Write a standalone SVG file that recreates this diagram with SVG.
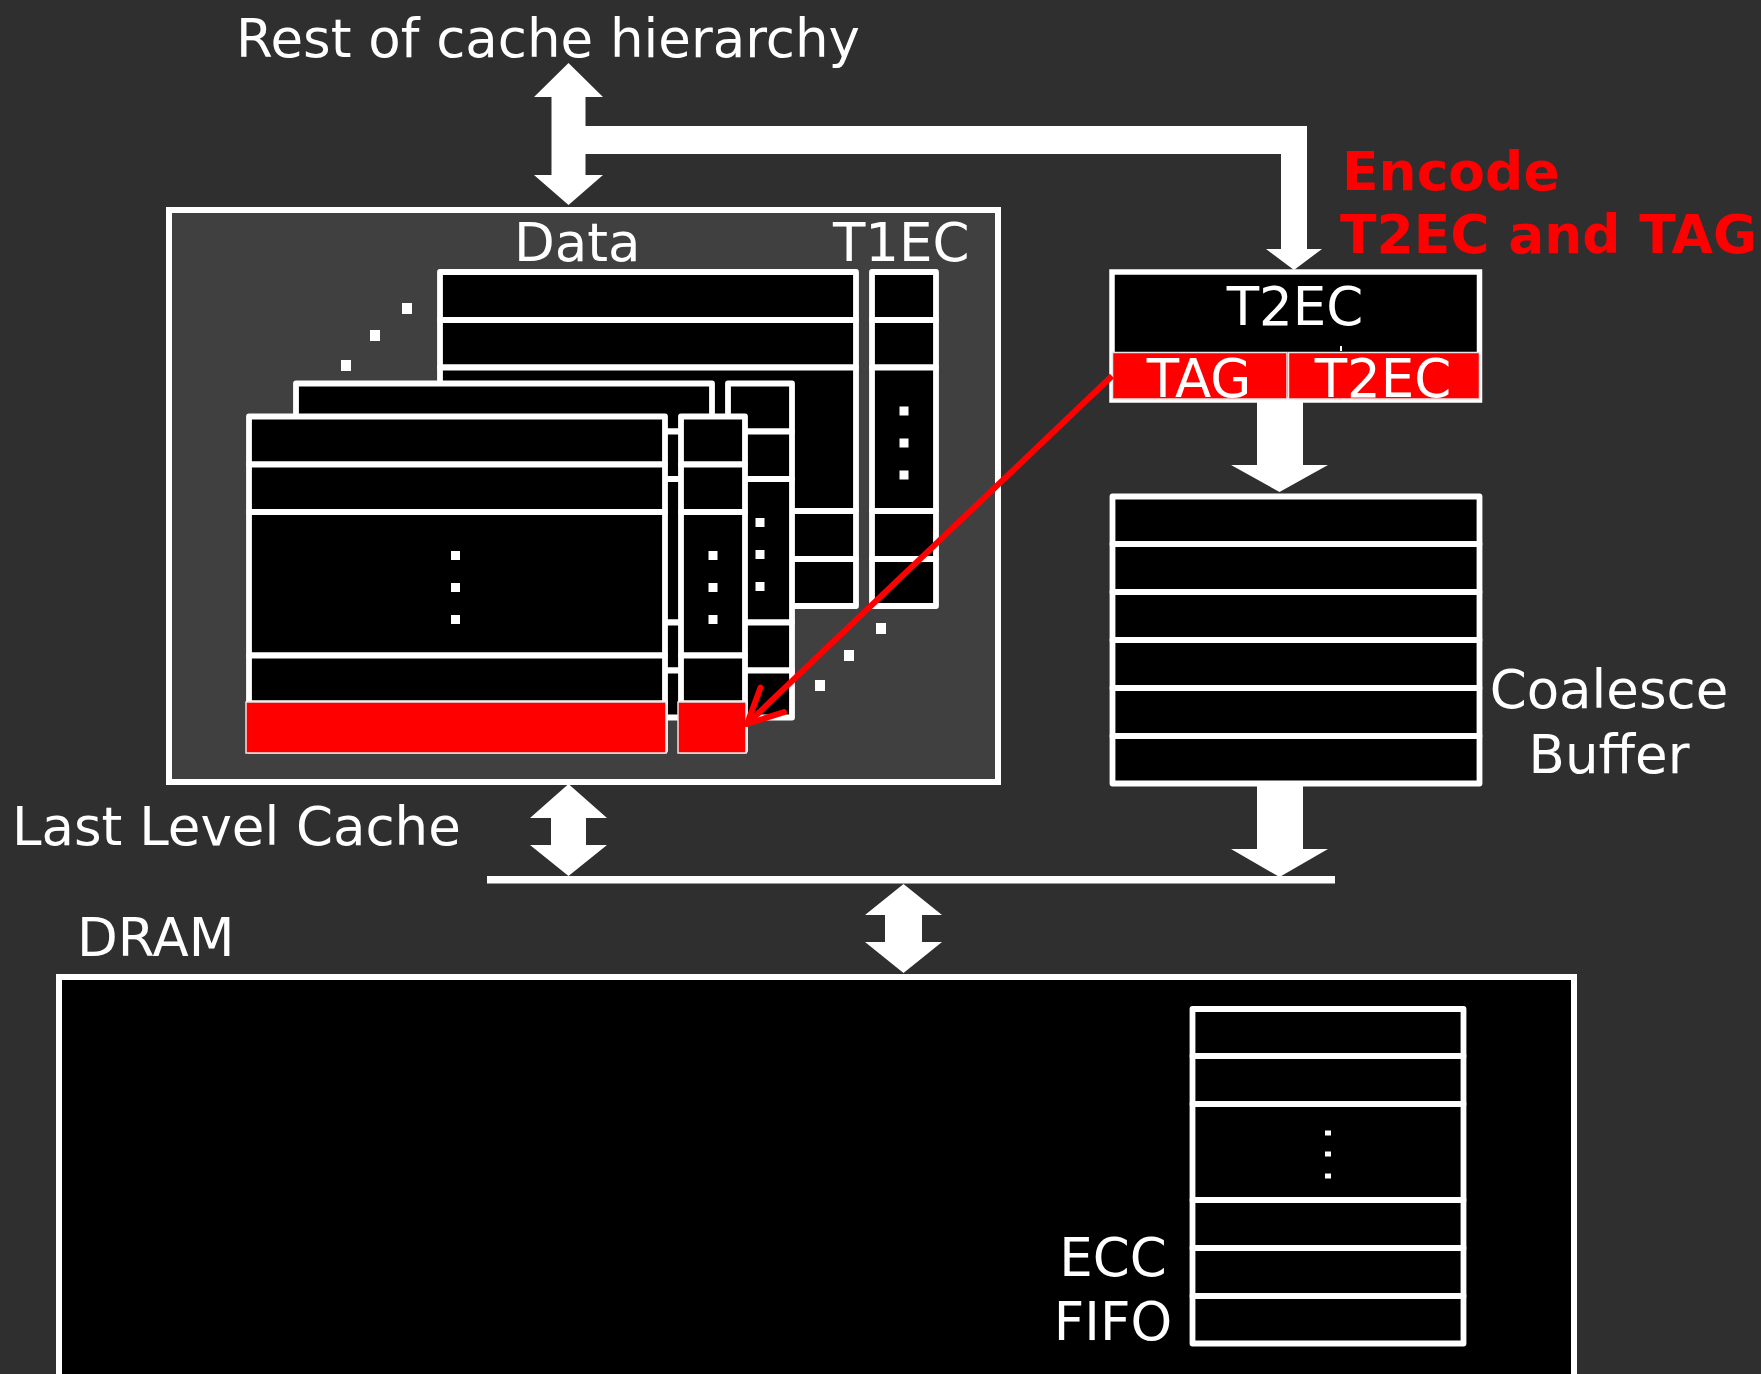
<svg xmlns="http://www.w3.org/2000/svg" xmlns:xlink="http://www.w3.org/1999/xlink" width="1761" height="1374" viewBox="0 0 1761 1374">
<style>
.lbl{font-family:"DejaVu Sans",Verdana,"Liberation Sans",sans-serif;font-size:53px;fill:#ffffff}
.red{font-family:"DejaVu Sans",Verdana,"Liberation Sans",sans-serif;font-size:53.5px;font-weight:bold;fill:#ff0000}
.cell{fill:#000000;stroke:#ffffff;stroke-width:5.8;stroke-linejoin:round}
.hot{fill:#ff0000;stroke:#e6e6e6;stroke-width:1.5}
.dot{fill:#ffffff}
.arrow{fill:#ffffff;stroke:none}
</style>
<defs>
<g id="plane">
<rect class="cell" x="0" y="0" width="416" height="48"/>
<rect class="cell" x="0" y="48" width="416" height="47.5"/>
<rect class="cell" x="0" y="95.5" width="416" height="143.5"/>
<rect class="cell" x="0" y="239" width="416" height="48"/>
<rect class="cell" x="0" y="287" width="416" height="47"/>
<rect class="cell" x="432" y="0" width="64" height="48"/>
<rect class="cell" x="432" y="48" width="64" height="47.5"/>
<rect class="cell" x="432" y="95.5" width="64" height="143.5"/>
<rect class="cell" x="432" y="239" width="64" height="48"/>
<rect class="cell" x="432" y="287" width="64" height="47"/>
<rect class="dot" x="202" y="134.5" width="9" height="9"/>
<rect class="dot" x="202" y="166.5" width="9" height="9"/>
<rect class="dot" x="202" y="198.5" width="9" height="9"/>
<rect class="dot" x="459.5" y="134.5" width="9" height="9"/>
<rect class="dot" x="459.5" y="166.5" width="9" height="9"/>
<rect class="dot" x="459.5" y="198.5" width="9" height="9"/>
</g>
<marker id="redhead" markerUnits="userSpaceOnUse" markerWidth="46" markerHeight="46" viewBox="0 0 46 46" refX="41" refY="23" orient="auto">
<path d="M6,6 L41,23 L6,40" fill="none" stroke="#ff0000" stroke-width="6" stroke-linecap="round" stroke-linejoin="round"/>
</marker>
</defs>

<rect x="0" y="0" width="1761" height="1374" fill="#2f2f2f"/>

<g id="rest-label">
<text class="lbl" x="236" y="57">Rest of cache hierarchy</text>
</g>

<g id="llc">
<rect x="169" y="210" width="829" height="572" fill="#404040" stroke="#ffffff" stroke-width="6"/>
<text class="lbl" x="514" y="261">Data</text>
<text class="lbl" x="833" y="261">T1EC</text>
<use xlink:href="#plane" href="#plane" transform="translate(440,272)"/>
<use xlink:href="#plane" href="#plane" transform="translate(296,383.5)"/>
<use xlink:href="#plane" href="#plane" transform="translate(249,416.5)"/>
<rect class="hot" x="246" y="702" width="420" height="51"/>
<rect class="hot" x="678" y="702" width="68" height="51"/>
<rect class="dot" x="402" y="303" width="10" height="11"/>
<rect class="dot" x="370" y="330" width="10" height="11"/>
<rect class="dot" x="341" y="360" width="10" height="11"/>
<rect class="dot" x="876" y="623" width="10" height="11"/>
<rect class="dot" x="844" y="650" width="10" height="11"/>
<rect class="dot" x="815" y="680" width="10" height="11"/>
<text class="lbl" x="12" y="845">Last Level Cache</text>
</g>

<g id="t2ec">
<rect x="1112" y="272" width="367.5" height="128" fill="#000000" stroke="#ffffff" stroke-width="5.5"/>
<text class="lbl" x="1295" y="325" text-anchor="middle">T2EC</text>
<rect class="hot" x="1112.5" y="352.5" width="174.5" height="46.5"/>
<rect class="hot" x="1288.5" y="352.5" width="191" height="46.5"/>
<rect class="dot" x="1340" y="346" width="2" height="5"/>
<text class="lbl" x="1199" y="397" text-anchor="middle">TAG</text>
<text class="lbl" x="1383" y="397" text-anchor="middle">T2EC</text>
</g>

<g id="encode-label">
<text class="red" x="1342" y="190">Encode</text>
<text class="red" x="1340" y="253">T2EC and TAG</text>
</g>

<g id="coalesce">
<rect class="cell" x="1112.5" y="496.5" width="367" height="47.5"/>
<rect class="cell" x="1112.5" y="544" width="367" height="48"/>
<rect class="cell" x="1112.5" y="592" width="367" height="48"/>
<rect class="cell" x="1112.5" y="640" width="367" height="48"/>
<rect class="cell" x="1112.5" y="688" width="367" height="48"/>
<rect class="cell" x="1112.5" y="736" width="367" height="47.5"/>
<text class="lbl" x="1609" y="708" text-anchor="middle">Coalesce</text>
<text class="lbl" x="1609" y="773" text-anchor="middle">Buffer</text>
</g>

<g id="dram">
<rect x="59" y="977" width="1515" height="430" fill="#000000" stroke="#ffffff" stroke-width="6"/>
<text class="lbl" x="77" y="956">DRAM</text>
</g>

<g id="ecc-fifo">
<rect class="cell" x="1192.5" y="1009" width="271" height="47"/>
<rect class="cell" x="1192.5" y="1056" width="271" height="48"/>
<rect class="cell" x="1192.5" y="1104" width="271" height="96"/>
<rect class="cell" x="1192.5" y="1200" width="271" height="48"/>
<rect class="cell" x="1192.5" y="1248" width="271" height="48"/>
<rect class="cell" x="1192.5" y="1296" width="271" height="47.5"/>
<rect class="dot" x="1325" y="1130.5" width="6" height="5"/>
<rect class="dot" x="1325" y="1151.5" width="6" height="5"/>
<rect class="dot" x="1325" y="1173.5" width="6" height="5"/>
<text class="lbl" x="1113" y="1276" text-anchor="middle">ECC</text>
<text class="lbl" x="1113" y="1340" text-anchor="middle">FIFO</text>
</g>

<g id="connectors">
<polygon class="arrow" points="568.5,63 603,97 585.5,97 585.5,175 603,175 568.5,205 534,175 551.5,175 551.5,97 534,97"/>
<polygon class="arrow" points="585,126 1307,126 1307,249 1322,249 1294,270 1266,249 1281,249 1281,154 585,154"/>
<polygon class="arrow" points="1257,402 1303,402 1303,465 1328,465 1279.5,492 1231,465 1257,465"/>
<polygon class="arrow" points="1257,786 1303,786 1303,849 1328,849 1279.5,877 1231,849 1257,849"/>
<rect class="arrow" x="487" y="876" width="848" height="7.5"/>
<polygon class="arrow" points="568.5,784 607,818 586,818 586,845 607,845 568.5,876 530,845 551,845 551,818 530,818"/>
<polygon class="arrow" points="903.5,884 942,915 922,915 922,942 942,942 903.5,973 865,942 885,942 885,915 865,915"/>
<line x1="1112" y1="376" x2="747" y2="724" stroke="#ff0000" stroke-width="6" marker-end="url(#redhead)"/>
</g>
</svg>
